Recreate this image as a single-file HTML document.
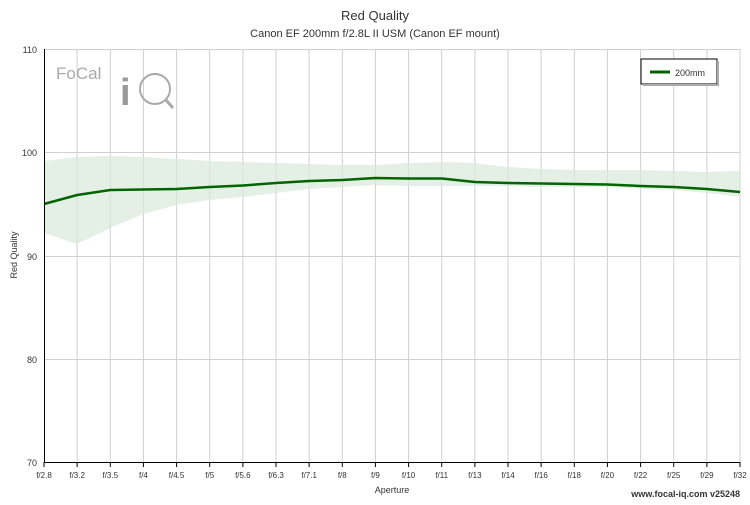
<!DOCTYPE html>
<html><head><meta charset="utf-8"><style>
body{margin:0;background:#fff;font-family:"Liberation Sans",sans-serif;}
</style></head><body>
<svg width="750" height="500" xmlns="http://www.w3.org/2000/svg" font-family="Liberation Sans, sans-serif">
<rect width="750" height="500" fill="#fff"/>
<text x="375" y="20" font-size="13" text-anchor="middle" fill="#333">Red Quality</text>
<text x="375" y="37" font-size="11" text-anchor="middle" fill="#333">Canon EF 200mm f/2.8L II USM (Canon EF mount)</text>
<g id="grid" stroke="#d0d0d0" stroke-width="1"></g>
<g stroke="#d0d0d0">
<line x1="44" y1="49.5" x2="740" y2="49.5"/>
<line x1="44" y1="152.5" x2="740" y2="152.5"/>
<line x1="44" y1="256.5" x2="740" y2="256.5"/>
<line x1="44" y1="359.5" x2="740" y2="359.5"/>
</g>
<g id="vg" stroke="#d0d0d0"></g>
<polygon id="band" fill="#d8eadb" fill-opacity="0.7"/>
<polyline id="ln" fill="none" stroke="#006400" stroke-width="2.5"/>
<line x1="44.5" y1="49" x2="44.5" y2="462" stroke="#000"/>
<line x1="44" y1="462.5" x2="740" y2="462.5" stroke="#000"/>
<g font-size="9" fill="#333" text-anchor="end">
<text x="37" y="53">110</text><text x="37" y="156">100</text><text x="37" y="260">90</text><text x="37" y="363">80</text><text x="37" y="466">70</text>
</g>
<text transform="translate(17,255) rotate(-90)" font-size="9" text-anchor="middle" fill="#333">Red Quality</text>
<text x="392" y="493" font-size="9" text-anchor="middle" fill="#333">Aperture</text>
<g id="xl" font-size="8" fill="#333" text-anchor="middle"></g>
<text x="56" y="79" font-size="17" fill="#aaa">FoCal</text>
<text x="120" y="105" font-size="38" font-weight="bold" fill="#999">i</text>
<circle cx="155" cy="89" r="15" fill="none" stroke="#aaa" stroke-width="2"/>
<line x1="166" y1="100" x2="173" y2="108" stroke="#aaa" stroke-width="3"/>
<rect x="641" y="59" width="76" height="25" fill="#fff" stroke="#000" stroke-width="1"/>
<rect x="717" y="61" width="2" height="25" fill="#aaa"/><rect x="643" y="84" width="76" height="2" fill="#aaa"/>
<line x1="650" y1="72" x2="670" y2="72" stroke="#006400" stroke-width="3"/>
<text x="675" y="76" font-size="9" fill="#333">200mm</text>
<text x="740" y="497" font-size="9" font-weight="bold" text-anchor="end" fill="#333">www.focal-iq.com  v25248</text>
</svg>
<script>
const labs=["f/2.8","f/3.2","f/3.5","f/4","f/4.5","f/5","f/5.6","f/6.3","f/7.1","f/8","f/9","f/10","f/11","f/13","f/14","f/16","f/18","f/20","f/22","f/25","f/29","f/32"];
const X=i=>44+i*(696/21);
const mid=[204,195,190,189.5,189,187,185.5,183,181,180,178,178.5,178.5,182,183,183.5,184,184.5,186,187,189,192];
const up=[161,157,156,157,159,161,162,163,164,165,165,163,162,163,167,169,170,170,170,171,172,171];
const lo=[233,244,228,214,205,200,197,193,189,187,185,186,186,186,186,187,187,187,189,190,193,197];
let vg="",xl="";
labs.forEach((l,i)=>{const x=X(i);if(i>0)vg+=`<line x1="${x}" y1="49" x2="${x}" y2="462"/>`;vg+=`<line x1="${x}" y1="462" x2="${x}" y2="467" stroke="#000"/>`;xl+=`<text x="${x}" y="478">${l}</text>`;});
document.getElementById("vg").innerHTML=vg;document.getElementById("xl").innerHTML=xl;
document.getElementById("ln").setAttribute("points",mid.map((y,i)=>X(i)+","+y).join(" "));
document.getElementById("band").setAttribute("points",up.map((y,i)=>X(i)+","+y).concat(lo.map((y,i)=>X(i)+","+y).reverse()).join(" "));
</script>
</body></html>
